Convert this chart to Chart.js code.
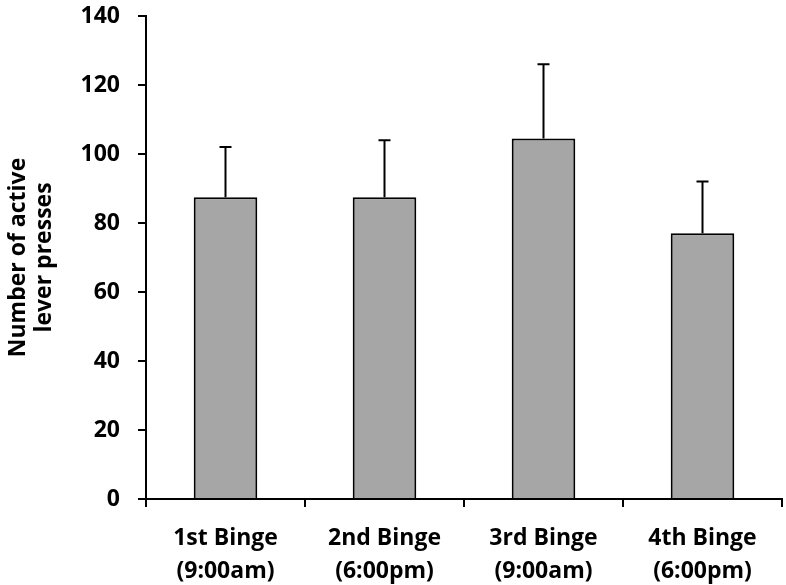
<!DOCTYPE html>
<html>
<head>
<meta charset="utf-8">
<script src="https://cdn.jsdelivr.net/npm/chart.js@4.4.0/dist/chart.umd.min.js"></script>
<style>
    body { margin: 0; background: #fff; }
    #wrap { width: 786px; height: 585px; }
</style>
</head>
<body>
<div id="wrap"><canvas id="chart" width="786" height="585"></canvas></div>
<script>
let categories = [
    ["1st Binge", "(9:00am)"],
    ["2nd Binge", "(6:00pm)"],
    ["3rd Binge", "(9:00am)"],
    ["4th Binge", "(6:00pm)"]
];
let pressMeans = [87.5, 87.5, 104.5, 77];
let pressErrTop = [102, 104, 126, 92];
let yTicks = [0, 20, 40, 60, 80, 100, 120, 140];

// draws the upper half of the error bars (line + cap) from the scales
let errorBars = {
    id: 'errorBars',
    afterDatasetsDraw(chart) {
        let ctx = chart.ctx;
        let meta = chart.getDatasetMeta(0);
        let y = chart.scales.y;
        ctx.save();
        ctx.strokeStyle = '#000';
        ctx.lineWidth = 2;
        meta.data.forEach((bar, i) => {
            let top = y.getPixelForValue(pressErrTop[i]);
            ctx.beginPath();
            ctx.moveTo(bar.x, bar.y);
            ctx.lineTo(bar.x, top);
            ctx.moveTo(bar.x - 6, top);
            ctx.lineTo(bar.x + 6, top);
            ctx.stroke();
        });
        ctx.restore();
    }
};

let font = { family: 'Open Sans', weight: 'bold', size: 23 };

new Chart(document.getElementById('chart').getContext('2d'), {
    type: 'bar',
    data: {
        labels: categories,
        datasets: [{
            data: pressMeans,
            backgroundColor: '#a6a6a6',
            borderColor: '#000',
            borderWidth: 2,
            borderSkipped: 'bottom',
            categoryPercentage: 0.4,
            barPercentage: 1
        }]
    },
    options: {
        responsive: false,
        animation: false,
        layout: { padding: { top: 16, right: 4, left: 0, bottom: 0 } },
        plugins: { legend: { display: false }, tooltip: { enabled: false } },
        scales: {
            x: {
                grid: { display: true, drawOnChartArea: false, color: '#000', lineWidth: 2, tickLength: 8, offset: true },
                border: { color: '#000', width: 2 },
                ticks: { color: '#000', font: { ...font, lineHeight: 1.43 }, padding: 15, maxRotation: 0 },
                afterFit(scale) { scale.height = 86; }
            },
            y: {
                min: 0,
                max: 140,
                afterBuildTicks(scale) { scale.ticks = yTicks.map(v => ({ value: v })); },
                grid: { display: true, drawOnChartArea: false, color: '#000', lineWidth: 2, tickLength: 8 },
                border: { color: '#000', width: 2 },
                ticks: { color: '#000', font: font, padding: 18 },
                title: {
                    display: true,
                    text: ['Number of active', 'lever presses'],
                    color: '#000',
                    font: { ...font, lineHeight: 1.13 },
                    padding: { top: 5, bottom: 0 }
                },
                afterFit(scale) {
                    scale.width = 146;
                    scale.paddingTop = 0;
                    scale.paddingBottom = 0;
                }
            }
        }
    },
    plugins: [errorBars]
});
</script>
</body>
</html>
